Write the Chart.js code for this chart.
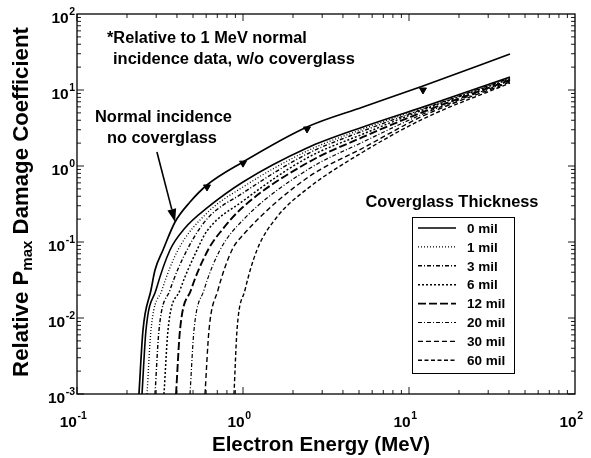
<!DOCTYPE html>
<html><head><meta charset="utf-8">
<script src="https://cdn.jsdelivr.net/npm/chart.js@4.4.1/dist/chart.umd.min.js"></script>
<style>html,body{margin:0;padding:0;background:#fff}</style>
</head><body>
<canvas id="c" width="591" height="458"></canvas>
<script>
// ---- data (Electron energy MeV, relative Pmax damage coefficient) ----
const normalE = [0.2362,0.2498,0.2791,0.2951,0.3297,0.3896,0.4795,0.6070,1.0,2.430,5.284,12.14,40.59];
const normalV = [0.001,0.00695,0.02335,0.0428,0.0785,0.1833,0.3357,0.5623,1.129,3.261,5.976,11.29,29.76];
const triangleE = [0.607,1.0,2.43,12.14];
const triangleV = [0.53,1.09,3.07,10.0];

const mil0E = [0.2464,0.2604,0.2991,0.3633,0.4473,0.6070,1.0,2.430,5.284,12.14,40.59];
const mil0V = [0.001,0.00695,0.02335,0.0785,0.1528,0.2802,0.6158,1.725,3.261,5.976,14.83];
const mil1E = [0.2641,0.2791,0.3251,0.4060,0.6070,1.0,2.430,5.284,12.14,40.59];
const mil1V = [0.001,0.00695,0.02335,0.0785,0.2408,0.5296,1.575,3.069,5.797,14.60];
const mil3E = [0.2951,0.3119,0.3633,0.4600,0.6070,1.0,2.430,5.284,12.14,40.59];
const mil3V = [0.001,0.00695,0.02335,0.0785,0.2008,0.4416,1.438,2.889,5.623,14.38];
const mil6E = [0.3343,0.3534,0.4174,0.5284,0.6070,1.0,2.430,5.284,12.14,40.59];
const mil6V = [0.001,0.00695,0.02335,0.0785,0.1396,0.3459,1.274,2.637,5.456,13.96];
const mil12E = [0.3950,0.4174,0.4861,0.6155,0.7471,1.0,2.430,5.284,12.14,40.59];
const mil12V = [0.001,0.00695,0.02335,0.0785,0.1438,0.2889,1.094,2.408,5.135,13.54];
const mil20E = [0.4795,0.5068,0.5823,0.7268,1.0,2.430,5.284,12.14,40.59];
const mil20V = [0.001,0.00695,0.02335,0.0785,0.1947,0.8854,2.070,4.833,13.13];
const mil30E = [0.5904,0.6240,0.7068,0.8584,1.0,2.430,5.284,12.14,40.59];
const mil30V = [0.001,0.00695,0.02335,0.0785,0.1236,0.6950,1.725,4.547,12.74];
const mil60E = [0.8826,0.9203,1.028,1.214,1.602,2.430,5.284,12.14,40.59];
const mil60V = [0.001,0.00695,0.02335,0.0785,0.2133,0.4977,1.528,4.153,12.37];

const legendLabels = ['0 mil','1 mil','3 mil','6 mil','12 mil','20 mil','30 mil','60 mil'];
const xTickValues = [0.1,1,10,100];
const xTickExponents = ['-1','0','1','2'];
const yTickValues = [100,10,1,0.1,0.01,0.001];
const yTickExponents = ['2','1','0','-1','-2','-3'];
const xTitle = 'Electron Energy (MeV)';
const yTitleParts = ['Relative P','max',' Damage Coefficient'];
const noteLines = ['*Relative to 1 MeV normal','incidence data, w/o coverglass'];
const arrowLabel = ['Normal incidence','no coverglass'];
const legendTitle = 'Coverglass Thickness';
const arrowFrom = {x:0.303, y:1.53};
const arrowTo = {x:0.3896, y:0.1833};

// ---- build datasets ----
const pts = (E,V) => E.map((e,i)=>({x:e,y:V[i]}));
const milStyles = [
  {dash:[], w:1.6},
  {dash:[1,2], w:1.3},
  {dash:[4,2,1,2], w:1.4},
  {dash:[2,2], w:1.5},
  {dash:[8,3], w:1.9},
  {dash:[4,2,1,2], w:1.2},
  {dash:[5,3], w:1.4},
  {dash:[4,2.5], w:1.4}
];
const milData = [[mil0E,mil0V],[mil1E,mil1V],[mil3E,mil3V],[mil6E,mil6V],[mil12E,mil12V],[mil20E,mil20V],[mil30E,mil30V],[mil60E,mil60V]];
const datasets = [{
  label:'Normal incidence', data:pts(normalE,normalV), borderColor:'#000', borderWidth:1.7,
  pointRadius:0, cubicInterpolationMode:'monotone', fill:false
},{
  type:'scatter', label:'data', data:pts(triangleE,triangleV), pointStyle:'triangle', rotation:180,
  pointRadius:4, backgroundColor:'#000', borderColor:'#000', showLine:false
}];
milData.forEach((d,i)=>datasets.push({
  label:legendLabels[i], data:pts(d[0],d[1]), borderColor:'#000', borderWidth:milStyles[i].w,
  borderDash:milStyles[i].dash, pointRadius:0, cubicInterpolationMode:'monotone', fill:false
}));

const FONT = '"Liberation Sans", Arial, Helvetica, sans-serif';
function fitFont(ctx, text, width, weight){
  ctx.font = weight+' 20px '+FONT;
  const w = ctx.measureText(text).width;
  return 20*width/w;
}

const decor = {
  id:'decor',
  afterDraw(chart){
    const {ctx, chartArea:a, scales:{x,y}} = chart;
    ctx.save();
    ctx.strokeStyle='#000'; ctx.fillStyle='#000';
    // frame
    ctx.lineWidth=1.3;
    ctx.strokeRect(a.left, a.top, a.right-a.left, a.bottom-a.top);
    // ticks
    ctx.lineWidth=0.9;
    ctx.beginPath();
    for(let d=-1; d<2; d++) for(let m=1;m<10;m++){
      const px = x.getPixelForValue(m*Math.pow(10,d));
      const L = m===1?7:4;
      ctx.moveTo(px,a.bottom); ctx.lineTo(px,a.bottom-L);
      ctx.moveTo(px,a.top); ctx.lineTo(px,a.top+L);
    }
    for(let d=-3; d<2; d++) for(let m=1;m<10;m++){
      const py = y.getPixelForValue(m*Math.pow(10,d));
      const L = m===1?7:4;
      ctx.moveTo(a.left,py); ctx.lineTo(a.left+L,py);
      ctx.moveTo(a.right,py); ctx.lineTo(a.right-L,py);
    }
    ctx.stroke();
    // tick labels
    ctx.textBaseline='middle';
    const big = 'bold 15.5px '+FONT, small='bold 10.5px '+FONT;
    xTickValues.forEach((v,i)=>{
      ctx.font=big; const wb=ctx.measureText('10').width;
      ctx.font=small; const we=ctx.measureText(xTickExponents[i]).width;
      const cx = x.getPixelForValue(v) - 4;
      const x0 = cx - (wb+we)/2;
      ctx.font=big; ctx.textAlign='left'; ctx.fillText('10', x0, 423);
      ctx.font=small; ctx.fillText(xTickExponents[i], x0+wb+0.5, 416);
    });
    yTickValues.forEach((v,i)=>{
      const py = y.getPixelForValue(v)+5;
      ctx.font=small; const we=ctx.measureText(yTickExponents[i]).width;
      ctx.font=big; const wb=ctx.measureText('10').width;
      const xr = 75;
      ctx.textAlign='left';
      ctx.font=big; ctx.fillText('10', xr-we-wb-0.5, py);
      ctx.font=small; ctx.fillText(yTickExponents[i], xr-we, py-7);
    });
    // axis titles
    let fs = fitFont(ctx, xTitle, 218, 'bold');
    ctx.font='bold '+fs+'px '+FONT; ctx.textAlign='center';
    ctx.fillText(xTitle, 321, 445);
    // y title with subscript, fitted to 350 px
    ctx.save();
    ctx.translate(22, 202); ctx.rotate(-Math.PI/2);
    const measure = (ys)=>{
      const ss = ys*0.68;
      ctx.font='bold '+ys+'px '+FONT; const w1=ctx.measureText(yTitleParts[0]).width, w3=ctx.measureText(yTitleParts[2]).width;
      ctx.font='bold '+ss+'px '+FONT; const w2=ctx.measureText(yTitleParts[1]).width;
      return [w1,w2,w3,ss];
    };
    let m0 = measure(20); const ys = 20*350/(m0[0]+m0[1]+m0[2]);
    const [w1,w2,w3,ss] = measure(ys);
    const tot=w1+w2+w3; let sx=-tot/2;
    ctx.textAlign='left';
    ctx.font='bold '+ys+'px '+FONT; ctx.fillText(yTitleParts[0], sx, 0);
    ctx.font='bold '+ss+'px '+FONT; ctx.fillText(yTitleParts[1], sx+w1, 6);
    ctx.font='bold '+ys+'px '+FONT; ctx.fillText(yTitleParts[2], sx+w1+w2, 0);
    ctx.restore();
    // notes
    ctx.textAlign='left';
    fs = fitFont(ctx, noteLines[0], 200, 'bold'); ctx.font='bold '+fs+'px '+FONT; ctx.fillText(noteLines[0], 107, 38);
    fs = fitFont(ctx, noteLines[1], 242, 'bold'); ctx.font='bold '+fs+'px '+FONT; ctx.fillText(noteLines[1], 113, 59);
    fs = fitFont(ctx, arrowLabel[0], 137, 'bold'); ctx.font='bold '+fs+'px '+FONT; ctx.fillText(arrowLabel[0], 95, 117.5);
    fs = fitFont(ctx, arrowLabel[1], 110, 'bold'); ctx.font='bold '+fs+'px '+FONT; ctx.fillText(arrowLabel[1], 107, 138);
    // arrow
    const ax0=x.getPixelForValue(arrowFrom.x), ay0=y.getPixelForValue(arrowFrom.y);
    const ax1=x.getPixelForValue(arrowTo.x), ay1=y.getPixelForValue(arrowTo.y);
    const ang=Math.atan2(ay1-ay0, ax1-ax0);
    const hl=13, hw=4.5;
    const bx=ax1-hl*Math.cos(ang), by=ay1-hl*Math.sin(ang);
    ctx.lineWidth=1.6; ctx.beginPath(); ctx.moveTo(ax0,ay0); ctx.lineTo(bx,by); ctx.stroke();
    ctx.beginPath(); ctx.moveTo(ax1,ay1);
    ctx.lineTo(bx+hw*Math.sin(ang), by-hw*Math.cos(ang));
    ctx.lineTo(bx-hw*Math.sin(ang), by+hw*Math.cos(ang));
    ctx.closePath(); ctx.fill();
    // legend
    fs = fitFont(ctx, legendTitle, 173, 'bold'); ctx.font='bold '+fs+'px '+FONT; ctx.textAlign='center';
    ctx.fillText(legendTitle, 452, 202);
    ctx.lineWidth=1; ctx.strokeRect(412.5,217.5,102,156);
    ctx.textAlign='left';
    legendLabels.forEach((lab,i)=>{
      const ly = 228 + i*18.9;
      const ds = chart.data.datasets[i+2];
      ctx.save(); ctx.setLineDash(ds.borderDash||[]); ctx.lineWidth=ds.borderWidth;
      ctx.beginPath(); ctx.moveTo(418,ly); ctx.lineTo(456,ly); ctx.stroke(); ctx.restore();
      ctx.font='bold 13.5px '+FONT; ctx.fillText(lab, 467, ly+1);
    });
    ctx.restore();
  }
};

new Chart(document.getElementById('c'), {
  type:'line',
  data:{datasets},
  options:{
    responsive:false, animation:false, devicePixelRatio:1,
    layout:{padding:{left:0,right:16,top:14,bottom:0}},
    plugins:{legend:{display:false}, tooltip:{enabled:false}},
    scales:{
      x:{type:'logarithmic', min:0.1, max:100, grid:{display:false}, border:{display:false},
         ticks:{display:false}, afterFit(s){s.height=64;}},
      y:{type:'logarithmic', min:0.001, max:100, grid:{display:false}, border:{display:false},
         ticks:{display:false}, afterFit(s){s.width=77;}}
    }
  },
  plugins:[decor]
});
</script>
</body></html>
